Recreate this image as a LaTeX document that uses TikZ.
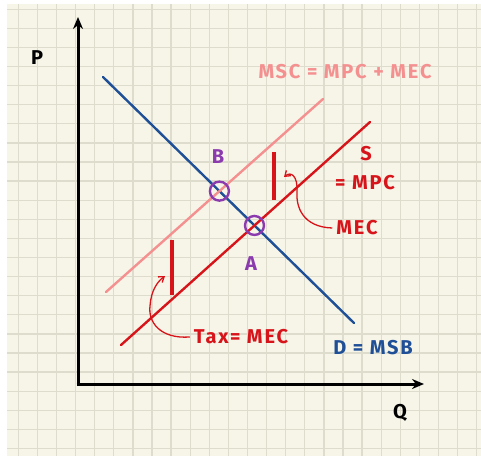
\documentclass[tikz,border=0pt]{standalone}
\usepackage{fontspec}
\setmainfont{Fira Sans}
\newfontfamily\handfont{Fira Sans}[LetterSpace=9]
\usepackage{tikz}
\usetikzlibrary{arrows.meta,calc}
\definecolor{paper}{HTML}{F7F5E8}
\definecolor{gridline}{HTML}{DEDCCD}
\definecolor{demandblue}{HTML}{1E4F97}
\definecolor{mscpink}{HTML}{F49090}
\definecolor{mpcred}{HTML}{D8141B}
\definecolor{pointpurple}{HTML}{8B3BAE}

\begin{document}
\begin{tikzpicture}[x=1pt,y=-1pt,
  axis/.style={line width=3pt,-{Stealth[length=12pt,width=10pt]}},
  curveline/.style={line width=2.4pt,line cap=round},
  eqpoint/.style={circle,draw=pointpurple,line width=2.4pt,minimum size=19pt,inner sep=0pt},
  lbl/.style={font=\handfont\bfseries\fontsize{20}{20}\selectfont,inner sep=0pt},
  taxbar/.style={draw=mpcred,line width=4.5pt},
  hook/.style={draw=mpcred,line width=1.3pt,-{Straight Barb[length=5pt,width=7pt]}}]
\useasboundingbox (0,0) rectangle (481,456);
% paper and grid
\fill[paper] (7,4) rectangle (481,456);
\foreach \i in {0,...,24}
  \draw[gridline,line width=1.3pt] (18.3+19.1*\i,4) -- (18.3+19.1*\i,456);
\foreach \j in {0,...,23}
  \draw[gridline,line width=1.3pt] (7,9.2+19.1*\j) -- (481,9.2+19.1*\j);

% axes
\coordinate (origin) at (78,384);
\coordinate (ptop) at (78,17);
\coordinate (qend) at (424,384);
\draw[axis] (origin) -- (ptop);
\draw[axis] ([xshift=-1.5pt]origin) -- (qend);
\node[lbl] (plabel) at (37,58) {P};
\node[lbl] (qlabel) at (400,413) {Q};

% curves
\coordinate (d1) at (103,77);
\coordinate (d2) at (354,323);
\coordinate (msc1) at (106,292);
\coordinate (msc2) at (323,99);
\coordinate (s1) at (121,345);
\coordinate (s2) at (370,122);
\draw[curveline,demandblue] (d1) -- (d2);
\draw[curveline,mscpink] (msc1) -- (msc2);
\draw[curveline,mpcred] (s1) -- (s2);

% equilibrium points
\node[eqpoint] (ptB) at (intersection of d1--d2 and msc1--msc2) {};
\node[eqpoint] (ptA) at (intersection of d1--d2 and s1--s2) {};
\node[lbl,text=pointpurple] (labB) at (218,157) {B};
\node[lbl,text=pointpurple] (labA) at (251,264) {A};

% tax wedge bars
\coordinate (bar1top) at (274,152);
\coordinate (bar1bot) at (274,200);
\coordinate (bar2top) at (172,240);
\coordinate (bar2bot) at (172,295);
\draw[taxbar] (bar1top) -- (bar1bot);
\draw[taxbar] (bar2top) -- (bar2bot);

% labels
\node[lbl,text=mscpink] (msclabel) at (345,72) {MSC = MPC + MEC};
\node[lbl,text=mpcred] (slabel) at (366,154) {S};
\node[lbl,text=mpcred] (mpclabel) at (365,183) {= MPC};
\node[lbl,text=mpcred] (meclabel) at (357,228) {MEC};
\node[lbl,text=mpcred] (taxlabel) at (241,337) {Tax= MEC};
\node[lbl,text=demandblue] (dlabel) at (373,348) {D = MSB};

% hooked arrows
\coordinate (mectip) at (284,177);
\coordinate (taxtip) at (165,276);
\draw[hook] ([xshift=-4pt]meclabel.west) .. controls (302,227) and (296,206) .. (297,192)
  .. controls (298,176) and (291,171) .. (mectip);
\draw[hook] ([xshift=-4pt]taxlabel.west) .. controls (160,339) and (148,322) .. (150,306)
  .. controls (151,291) and (157,282) .. (taxtip);
\end{tikzpicture}
\end{document}
